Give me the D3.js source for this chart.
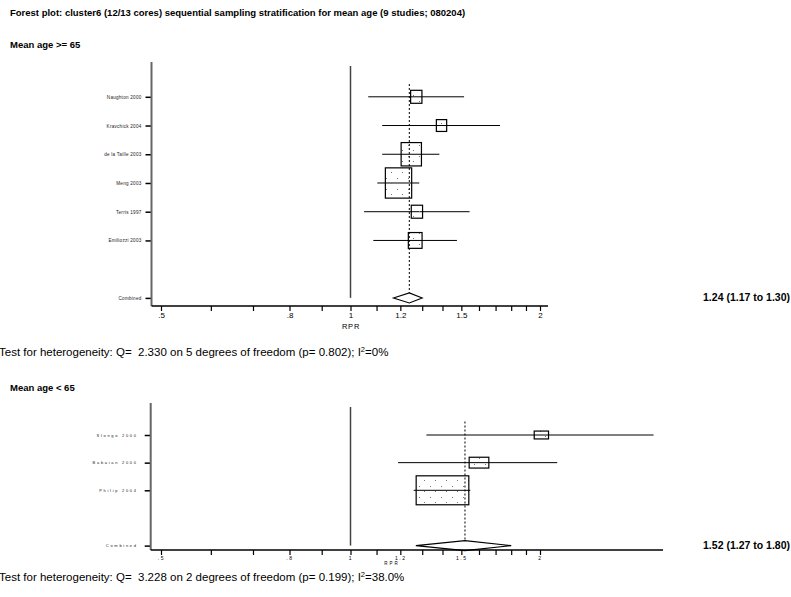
<!DOCTYPE html>
<html>
<head>
<meta charset="utf-8">
<script src="https://cdn.jsdelivr.net/npm/d3@7"></script>
<style>
  html, body { margin: 0; padding: 0; background: #fff; }
  svg { display: block; font-family: "Liberation Sans", Arial, sans-serif; }
</style>
</head>
<body>
<svg id="chart" width="791" height="597"></svg>
<script>
// ---- Data ----
const titleText = "Forest plot: cluster6 (12/13 cores) sequential sampling stratification for mean age (9 studies; 080204)";

// Mean age >= 65
const olderStudies = ["Naughton 2000", "Kravchick 2004", "de la Taille 2003", "Meng 2003", "Terris 1997", "Emiliozzi 2003"];
const olderRPR     = [1.272, 1.395, 1.249, 1.192, 1.275, 1.267];
const olderLow     = [1.067, 1.123, 1.123, 1.103, 1.051, 1.087];
const olderHigh    = [1.515, 1.728, 1.384, 1.286, 1.546, 1.476];
const olderWeight  = [7.7, 6.4, 24.9, 41.8, 7.7, 11.4];
const olderPooled  = [1.24, 1.17, 1.30];   // estimate, lower, upper
const olderHet     = { q: "2.330", df: 5, p: "0.802", i2: "0%" };

// Mean age < 65
const youngerStudies = ["Slongo 2000", "Babaian 2000", "Philip 2004"];
const youngerRPR     = [2.01, 1.60, 1.40];
const youngerLow     = [1.32, 1.19, 1.26];
const youngerHigh    = [3.03, 2.13, 1.55];
const youngerWeight  = [6.1, 11.5, 82.4];
const youngerPooled  = [1.52, 1.27, 1.80];
const youngerHet     = { q: "3.228", df: 2, p: "0.199", i2: "38.0%" };

const xTickValues = [0.5, 0.6, 0.7, 0.8, 0.9, 1, 1.1, 1.2, 1.3, 1.4, 1.5, 1.6, 1.7, 1.8, 1.9, 2];
const xTickLabels = { 0.5: ".5", 0.8: ".8", 1: "1", 1.2: "1.2", 1.5: "1.5", 2: "2" };

// ---- Drawing ----
const svg = d3.select("#chart");

// stippled fill used inside the study boxes
const defs = svg.append("defs");
const pat = defs.append("pattern")
  .attr("id", "stipple").attr("patternUnits", "userSpaceOnUse")
  .attr("width", 11).attr("height", 11);
pat.append("rect").attr("x", 1).attr("y", 2).attr("width", 1).attr("height", 1).attr("fill", "#777");
pat.append("rect").attr("x", 6).attr("y", 7).attr("width", 1).attr("height", 1).attr("fill", "#777");

svg.append("text")
  .attr("x", 10).attr("y", 16)
  .attr("font-size", 9.5).attr("font-weight", "bold")
  .text(titleText);

function drawPanel(cfg) {
  const g = svg.append("g");
  const n = cfg.studies.length;

  const x = d3.scaleLog().domain([0.5, 2]).range([161, 540]);
  const y = d3.scaleLinear().domain([0, n + 1]).range([cfg.rowTop, cfg.rowBottom]);

  // subgroup heading
  g.append("text")
    .attr("x", 10).attr("y", cfg.headY)
    .attr("font-size", 9.5).attr("font-weight", "bold")
    .text(cfg.heading);

  // line of no effect
  g.append("line")
    .attr("x1", x(1)).attr("x2", x(1))
    .attr("y1", cfg.nullTop).attr("y2", y(n + 1))
    .attr("stroke", "#444").attr("stroke-width", 1.5);

  // pooled estimate reference (dashed)
  g.append("line")
    .attr("x1", x(cfg.pooled[0])).attr("x2", x(cfg.pooled[0]))
    .attr("y1", cfg.dashTop).attr("y2", y(n + 1) - cfg.diamondH)
    .attr("stroke", "#000").attr("stroke-width", 1)
    .attr("stroke-dasharray", "2,2");

  // confidence intervals
  g.selectAll("line.ci").data(cfg.studies).join("line")
    .attr("class", "ci")
    .attr("x1", (d, i) => x(cfg.low[i])).attr("x2", (d, i) => x(cfg.high[i]))
    .attr("y1", (d, i) => y(i)).attr("y2", (d, i) => y(i))
    .attr("stroke", "#000").attr("stroke-width", 1);

  // weighted boxes
  const boxW = (i) => cfg.boxScale * Math.sqrt(cfg.weight[i]);
  const boxH = (i) => boxW(i) * cfg.boxAspect;
  g.selectAll("rect.box").data(cfg.studies).join("rect")
    .attr("class", "box")
    .attr("x", (d, i) => x(cfg.rpr[i]) - boxW(i) / 2)
    .attr("y", (d, i) => y(i) - boxH(i) / 2)
    .attr("width", (d, i) => boxW(i))
    .attr("height", (d, i) => boxH(i))
    .attr("fill", "url(#stipple)")
    .attr("stroke", "#000").attr("stroke-width", 1.2);

  // pooled diamond
  const cy = y(n + 1);
  const [est, lo, hi] = cfg.pooled;
  g.append("path")
    .attr("d", `M${x(lo)},${cy} L${x(est)},${cy - cfg.diamondH} L${x(hi)},${cy} L${x(est)},${cy + cfg.diamondH} Z`)
    .attr("fill", "none").attr("stroke", "#000").attr("stroke-width", 1.1);

  g.append("text")
    .attr("x", 790).attr("y", cy + 3.5)
    .attr("text-anchor", "end")
    .attr("font-size", 10.5).attr("font-weight", "bold")
    .text(`${est.toFixed(2)} (${lo.toFixed(2)} to ${hi.toFixed(2)})`);

  // y axis with study names
  const yAxis = d3.axisLeft(y)
    .tickValues(d3.range(n).concat([n + 1]))
    .tickFormat(i => i < n ? cfg.studies[i] : "Combined")
    .tickSize(6).tickPadding(cfg.yPad);
  const ya = g.append("g").attr("transform", `translate(${cfg.axisX},0)`).call(yAxis);
  ya.select(".domain").remove();
  ya.selectAll(".tick line").attr("stroke", "#000").attr("stroke-width", 1.5);
  ya.selectAll(".tick text")
    .attr("font-family", "Liberation Sans, Arial, sans-serif")
    .attr("font-size", cfg.yFont).attr("letter-spacing", cfg.ySpacing)
    .attr("fill", "#222");
  g.append("line")
    .attr("x1", cfg.axisX).attr("x2", cfg.axisX)
    .attr("y1", cfg.axisTop).attr("y2", cfg.axisY)
    .attr("stroke", "#666").attr("stroke-width", 2);

  // x axis
  const xAxis = d3.axisBottom(x)
    .tickValues(xTickValues)
    .tickFormat(v => xTickLabels[v] || "")
    .tickSize(5).tickSizeOuter(0).tickPadding(1);
  const xa = g.append("g").attr("transform", `translate(0,${cfg.axisY})`).call(xAxis);
  xa.select(".domain").remove();
  xa.selectAll(".tick line").attr("stroke", "#000").attr("stroke-width", 1.2);
  xa.selectAll(".tick text")
    .attr("font-family", "Liberation Sans, Arial, sans-serif")
    .attr("font-size", cfg.xFont).attr("letter-spacing", cfg.xSpacing)
    .attr("fill", "#000");
  g.append("line")
    .attr("x1", cfg.axisX).attr("x2", cfg.axisRight)
    .attr("y1", cfg.axisY).attr("y2", cfg.axisY)
    .attr("stroke", "#000").attr("stroke-width", 1.5);

  g.append("text")
    .attr("x", cfg.rprX).attr("y", cfg.axisY + cfg.rprDy)
    .attr("text-anchor", "middle")
    .attr("font-size", cfg.rprFont).attr("letter-spacing", cfg.rprSpacing)
    .text("RPR");

  // heterogeneity statement
  const het = g.append("text")
    .attr("x", -1).attr("y", cfg.hetY)
    .attr("font-size", 11.5);
  het.append("tspan").text(`Test for heterogeneity: Q=\u00a0 ${cfg.het.q} on ${cfg.het.df} degrees of freedom (p= ${cfg.het.p}); I`);
  het.append("tspan").attr("dy", -4).attr("font-size", 7.5).text("2");
  het.append("tspan").attr("dy", 4).text(`=${cfg.het.i2}`);
}

drawPanel({
  heading: "Mean age >= 65", headY: 48,
  studies: olderStudies, rpr: olderRPR, low: olderLow, high: olderHigh,
  weight: olderWeight, pooled: olderPooled, het: olderHet,
  rowTop: 96.8, rowBottom: 297.9,
  axisX: 151.5, axisTop: 62, axisY: 306, axisRight: 548,
  nullTop: 66, dashTop: 84, diamondH: 5,
  boxScale: 4.07, boxAspect: 1.15,
  yFont: 4.6, ySpacing: 0.25, yPad: 4,
  xFont: 8, xSpacing: 0, rprX: 351, rprDy: 23, rprFont: 7.5, rprSpacing: 0.8,
  hetY: 356
});

drawPanel({
  heading: "Mean age < 65", headY: 391,
  studies: youngerStudies, rpr: youngerRPR, low: youngerLow, high: youngerHigh,
  weight: youngerWeight, pooled: youngerPooled, het: youngerHet,
  rowTop: 435, rowBottom: 545.6,
  axisX: 150.7, axisTop: 403, axisY: 550, axisRight: 663,
  nullTop: 407, dashTop: 421.5, diamondH: 5,
  boxScale: 5.8, boxAspect: 0.55,
  yFont: 4, ySpacing: 1.7, yPad: 7,
  xFont: 5, xSpacing: 1.6, rprX: 392, rprDy: 15, rprFont: 4.5, rprSpacing: 2,
  hetY: 581
});
</script>
</body>
</html>
